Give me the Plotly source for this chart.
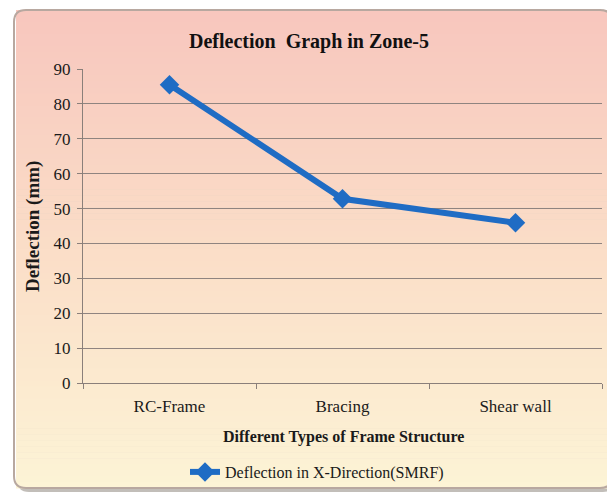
import plotly.graph_objects as go

categories = ["RC-Frame", "Bracing", "Shear wall"]
deflection_x = [85.5, 52.8, 45.9]
y_ticks = [0, 10, 20, 30, 40, 50, 60, 70, 80, 90]

OFF = 8  # page body margin
W, H = 615 - OFF, 499 - OFF
L, T, PW, PH = 83 - OFF, 69 - OFF, 519, 314

def px(x):
    return (x - OFF - L) / PW

def py(y):
    return (T + PH - (y - OFF)) / PH

fig = go.Figure()
fig.add_trace(go.Scatter(
    x=categories, y=deflection_x, mode="lines+markers",
    name="Deflection in X-Direction(SMRF)",
    line=dict(color="#1f6cc4", width=6),
    marker=dict(symbol="diamond", size=15, color="#1f6cc4"),
))

def rounded(x0, y0, x1, y1, r):
    X0, X1 = px(x0), px(x1)
    Y0, Y1 = py(y0), py(y1)
    rx, ry = r / PW, r / PH
    return (f"M {X0+rx},{Y0} L {X1-rx},{Y0} Q {X1},{Y0} {X1},{Y0-ry} "
            f"L {X1},{Y1+ry} Q {X1},{Y1} {X1-rx},{Y1} L {X0+rx},{Y1} "
            f"Q {X0},{Y1} {X0},{Y1+ry} L {X0},{Y0-ry} Q {X0},{Y0} {X0+rx},{Y0} Z")

shapes = []
shapes.append(dict(type="path", xref="paper", yref="paper", path=rounded(17, 13, 615, 492, 12),
                   fillcolor="rgba(120,110,100,0.45)", line=dict(width=0), layer="below"))
top = (248, 199, 190)
mid = (251, 222, 200)
bot = (253, 244, 214)
n = 80
ytop, ybot = 10, 488
for i in range(n):
    t = i / (n - 1)
    if t < 0.5:
        a, b, u = top, mid, t / 0.5
    else:
        a, b, u = mid, bot, (t - 0.5) / 0.5
    c = tuple(int(a[k] + (b[k] - a[k]) * u) for k in range(3))
    ya = ytop + (ybot - ytop) * i / n
    yb = ytop + (ybot - ytop) * (i + 1) / n + 0.6
    shapes.append(dict(type="rect", xref="paper", yref="paper",
                       x0=px(16), x1=px(610), y0=py(ya), y1=py(yb),
                       fillcolor=f"rgb{c}", line=dict(width=0), layer="below"))
shapes.append(dict(type="path", xref="paper", yref="paper", path=rounded(14, 10, 612, 488, 12),
                   fillcolor="rgba(0,0,0,0)", line=dict(color="#b8a8a0", width=2), layer="below"))

fig.update_layout(
    width=W, height=H,
    margin=dict(l=L, r=W - L - PW, t=T, b=H - T - PH, autoexpand=False),
    paper_bgcolor="white", plot_bgcolor="rgba(0,0,0,0)",
    font=dict(family="Liberation Serif", color="#1a1a1a", size=16),
    shapes=shapes,
    annotations=[
        dict(text="<b>Deflection  Graph in Zone-5</b>", xref="paper", yref="paper",
             x=px(309), y=py(42), showarrow=False, font=dict(size=20, color="#111"),
             xanchor="center", yanchor="middle"),
        dict(text="<b>Different Types of Frame Structure</b>", xref="paper", yref="paper",
             x=px(343), y=py(437), showarrow=False, font=dict(size=16), xanchor="center", yanchor="middle"),
        dict(text="<b>Deflection (mm)</b>", xref="paper", yref="paper", textangle=-90,
             x=px(33), y=py(227), showarrow=False, font=dict(size=19), xanchor="center", yanchor="middle"),
    ],
    showlegend=True,
    legend=dict(orientation="h", x=px(317), xanchor="center", y=py(472), yanchor="middle",
                bgcolor="rgba(0,0,0,0)", font=dict(size=16)),
    xaxis=dict(showgrid=False, showline=True, linecolor="#8a7f7a", linewidth=1, automargin=False,
               ticks="outside", tickson="boundaries", ticklen=5, tickcolor="#8a7f7a",
               ticklabelstandoff=8, tickfont=dict(size=17), range=[-0.5, 2.5]),
    yaxis=dict(range=[0, 90], tickvals=y_ticks, showgrid=True, gridcolor="#8f8480", gridwidth=1,
               showline=True, linecolor="#8a7f7a", linewidth=1, zeroline=False, automargin=False,
               ticks="outside", ticklen=5, tickcolor="#8a7f7a", ticklabelstandoff=3,
               tickfont=dict(size=17)),
)

fig.write_html("out.html")
